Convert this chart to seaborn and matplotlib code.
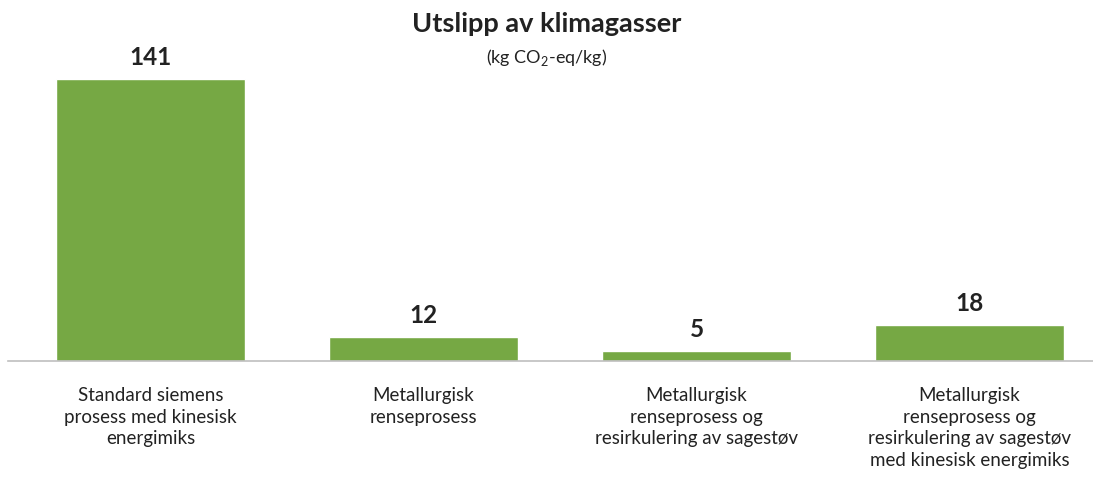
import matplotlib
matplotlib.use("Agg")
import matplotlib.pyplot as plt
import seaborn as sns
import pandas as pd

categories = [
    "Standard siemens\nprosess med kinesisk\nenergimiks",
    "Metallurgisk\nrenseprosess",
    "Metallurgisk\nrenseprosess og\nresirkulering av sagestøv",
    "Metallurgisk\nrenseprosess og\nresirkulering av sagestøv\nmed kinesisk energimiks",
]
values = [141, 12, 5, 18]

sns.set_theme(style="white")
plt.rcParams["font.family"] = ["Lato", "DejaVu Sans"]
plt.rcParams["mathtext.fontset"] = "custom"
plt.rcParams["mathtext.rm"] = "Lato"

df = pd.DataFrame({"kategori": categories, "utslipp": values})

fig = plt.figure(figsize=(10.93, 4.78), dpi=100)
ax = fig.add_axes([8 / 1093, 1 - 361 / 478, 1085 / 1093, 331 / 478])

sns.barplot(data=df, x="kategori", y="utslipp", color="#76A844",
            saturation=1, width=0.69, ax=ax)

ax.set_xlim(-0.522, 3.452)
ax.set_ylim(0, 165.5)

for i, v in enumerate(values):
    ax.annotate(str(v), (i, v), xytext=(0, 7), textcoords="offset points",
                ha="center", va="bottom", fontsize=17.5, fontweight="bold",
                color="#222222")

sns.despine(ax=ax, left=True, top=True, right=True)
ax.spines["bottom"].set_color("#BFBFBF")
ax.spines["bottom"].set_linewidth(1.2)
ax.set_yticks([])
ax.set_xlabel("")
ax.set_ylabel("")
ax.tick_params(axis="x", length=0, pad=19, labelsize=13.5, colors="#222222")
for lbl in ax.get_xticklabels():
    lbl.set_linespacing(1.32)

fig.text(0.5, 1 - 24 / 478, "Utslipp av klimagasser", ha="center", va="center",
         fontsize=19.5, fontweight="bold", color="#222222")
fig.text(0.5, 1 - 57 / 478, "(kg CO$_2$-eq/kg)", ha="center", va="center",
         fontsize=13, color="#222222")

fig.savefig("out.png", dpi=100)
